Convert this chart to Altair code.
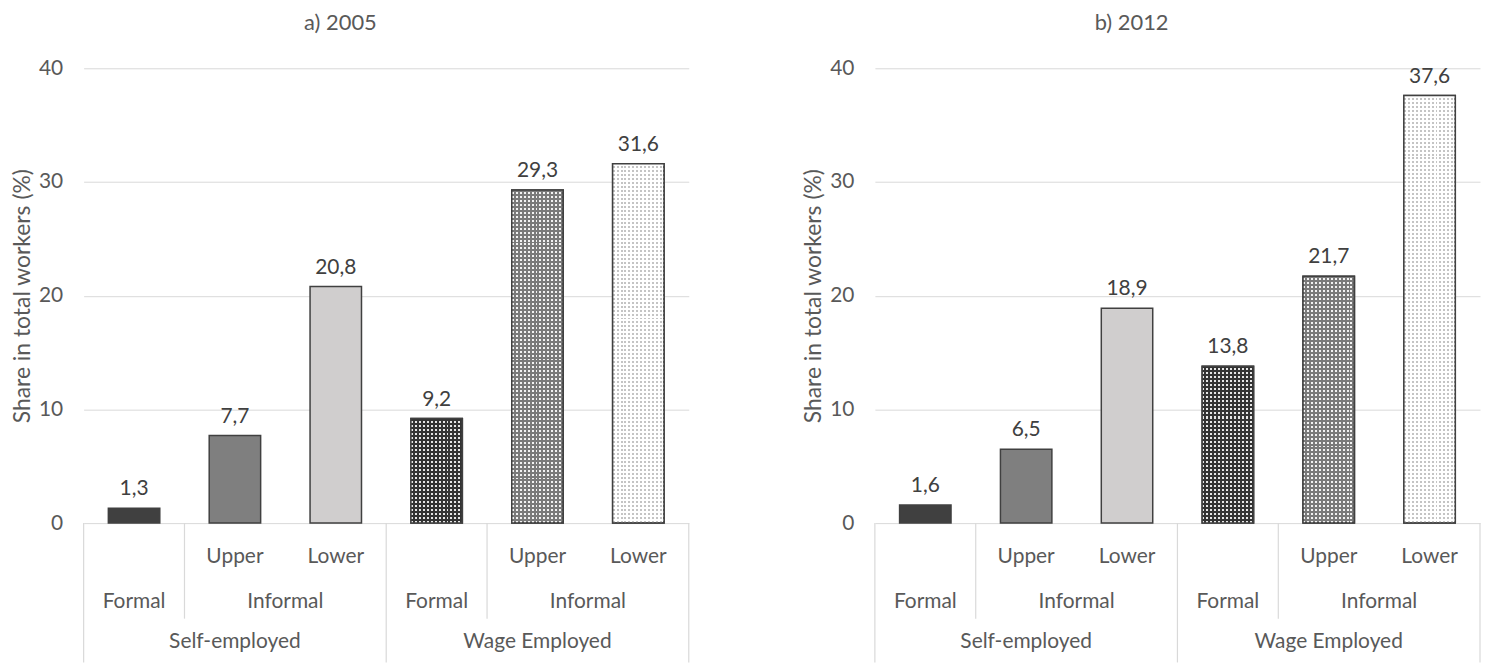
import altair as alt
import pandas as pd

# ---- data ----
ids = ["SE-F", "SE-U", "SE-L", "WE-F", "WE-U", "WE-L"]
groups = ["Self-employed"] * 3 + ["Wage Employed"] * 3
status = ["Formal", "Informal", "Informal", "Formal", "Informal", "Informal"]
level = ["", "Upper", "Lower", "", "Upper", "Lower"]
v2005 = [1.3, 7.7, 20.8, 9.2, 29.3, 31.6]
v2012 = [1.6, 6.5, 18.9, 13.8, 21.7, 37.6]
panel_titles = ["a) 2005", "b) 2012"]
y_ticks = [0, 10, 20, 30, 40]
y_title = "Share in total workers (%)"

# ---- style ----
FONT = "Lato"
TXT = "#595959"
DARK = "#404040"
GRID = "#d9d9d9"
CLEAR = "rgba(255,255,255,0)"
W, H = 608, 457
PI, PO = 0.49, 0.245
STEP = W / 6
HALF_GAP = STEP * PI / 2
base_colors = ["#404040", "#7f7f7f", "#d0cece", "#333333", "#7a7a7a", "#ffffff"]
# (background, dot colour) of the dotted bars
pattern_colors = {
    "WE-F": ("#333333", "#e6e6e6"),
    "WE-U": ("#7a7a7a", "#f2f2f2"),
    "WE-L": ("#ffffff", "#c4c4c4"),
}


def stripes(c_on, n, vertical_bands=True):
    stops = []
    for k in range(n):
        a, m, b = k / n, (k + 0.5) / n, (k + 1) / n
        stops += [
            {"offset": a, "color": c_on},
            {"offset": m, "color": c_on},
            {"offset": m, "color": CLEAR},
            {"offset": b, "color": CLEAR},
        ]
    if vertical_bands:
        return {"gradient": "linear", "x1": 0, "y1": 0, "x2": 1, "y2": 0, "stops": stops}
    return {"gradient": "linear", "x1": 0, "y1": 0, "x2": 0, "y2": 1, "stops": stops}


def xdef(bp=None):
    kw = dict(sort=ids, scale=alt.Scale(paddingInner=PI, paddingOuter=PO), axis=None)
    if bp is not None:
        kw["bandPosition"] = bp
    return alt.X("id:N", **kw)


def panel(values, title):
    df = pd.DataFrame(dict(id=ids, group=groups, status=status, level=level, v=values))
    base = alt.Chart(df)
    yax = alt.Y(
        "v:Q",
        scale=alt.Scale(domain=[0, 40], nice=False),
        axis=alt.Axis(
            values=y_ticks, grid=True, gridColor=GRID, gridWidth=1, domain=False,
            ticks=False, tickSize=0, labelPadding=21, labelFont=FONT, labelFontSize=21,
            labelColor=TXT, title=y_title, titleFont=FONT, titleFontSize=23,
            titleColor=TXT, titleFontWeight="normal", titlePadding=4,
        ),
    )
    layers = []
    layers.append(
        base.mark_bar(stroke=DARK, strokeWidth=1.5).encode(
            x=xdef(), y=yax,
            color=alt.Color("id:N", scale=alt.Scale(domain=ids, range=base_colors), legend=None),
        )
    )
    for key, (bg, dot) in pattern_colors.items():
        v = values[ids.index(key)]
        n_rows = max(1, round(v / 40 * H / 4))
        sub = base.transform_filter(alt.datum.id == key)
        layers.append(
            sub.mark_bar(fill=stripes(dot, 13, True), strokeWidth=0)
            .encode(x=xdef(), y=alt.Y("v:Q"))
        )
        layers.append(
            sub.mark_bar(fill=stripes(bg, n_rows, False), stroke=DARK, strokeWidth=1.5)
            .encode(x=xdef(), y=alt.Y("v:Q"))
        )
    layers.append(
        base.transform_calculate(lab="replace(format(datum.v, '.1f'), '.', ',')")
        .mark_text(baseline="bottom", dy=-9, font=FONT, fontSize=21, color=DARK)
        .encode(x=xdef(), y=alt.Y("v:Q"), text="lab:N")
    )
    tkw = dict(baseline="middle", font=FONT, fontSize=21, color=TXT)
    layers.append(
        base.transform_filter("datum.level != ''")
        .mark_text(**tkw)
        .encode(x=xdef(), y=alt.value(H + 34), text="level:N")
    )
    layers.append(
        base.transform_filter("datum.level == ''")
        .mark_text(**tkw)
        .encode(x=xdef(), y=alt.value(H + 79), text="status:N")
    )
    layers.append(
        base.transform_filter("datum.level == 'Upper'")
        .mark_text(xOffset=STEP / 2, **tkw)
        .encode(x=xdef(), y=alt.value(H + 79), text="status:N")
    )
    layers.append(
        base.transform_filter("datum.level == 'Upper'")
        .mark_text(**tkw)
        .encode(x=xdef(), y=alt.value(H + 119), text="group:N")
    )
    layers.append(
        base.transform_filter("datum.level == ''")
        .mark_rule(xOffset=-HALF_GAP, color=GRID, strokeWidth=1.2)
        .encode(x=xdef(0), y=alt.value(H), y2=alt.value(H + 140))
    )
    layers.append(
        base.transform_filter("datum.level == 'Upper'")
        .mark_rule(xOffset=-HALF_GAP, color=GRID, strokeWidth=1.2)
        .encode(x=xdef(0), y=alt.value(H), y2=alt.value(H + 96))
    )
    layers.append(
        base.transform_filter(alt.datum.id == ids[-1])
        .mark_rule(xOffset=HALF_GAP, color=GRID, strokeWidth=1.2)
        .encode(x=xdef(1), y=alt.value(H), y2=alt.value(H + 140))
    )
    return alt.layer(*layers).properties(
        width=W, height=H,
        title=alt.TitleParams(
            title, font=FONT, fontSize=22, color=TXT, fontWeight="normal",
            anchor="middle", frame="group", dx=-46, offset=22,
        ),
    )


chart = (
    alt.hconcat(panel(v2005, panel_titles[0]), panel(v2012, panel_titles[1]), spacing=113)
    .properties(padding={"left": 3, "top": 3, "right": 0, "bottom": 0})
    .configure_view(stroke=None)
)

chart.save("out.html", embed_options={"renderer": "svg", "actions": False})
